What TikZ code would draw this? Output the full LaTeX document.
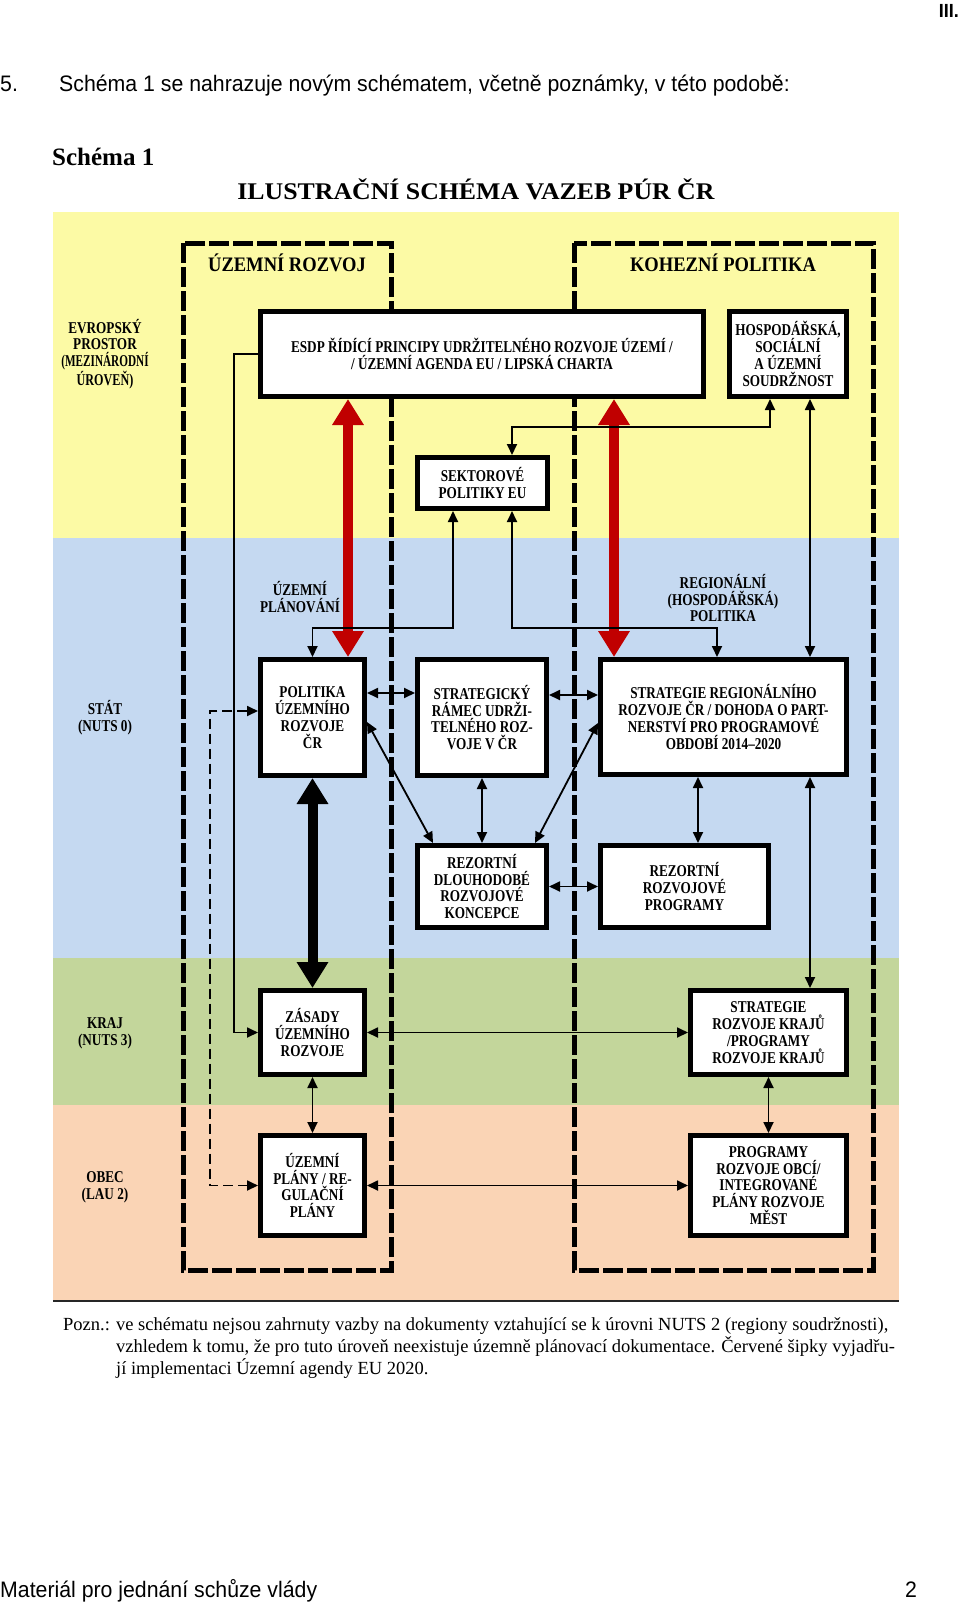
\documentclass[tikz,border=0pt]{standalone}
\usepackage{graphicx}
\usepackage{fontspec}
\setmainfont{Liberation Serif}
\newfontfamily\dia[FakeStretch=0.8]{Liberation Serif}
\newfontfamily\frfam[FakeStretch=0.9]{Liberation Serif}
\newfontfamily\ttlfont[FakeStretch=1.08]{Liberation Serif}
\newfontfamily\hdrfont[FakeStretch=0.95]{Liberation Sans}
\usetikzlibrary{arrows.meta,calc}
\definecolor{yel}{RGB}{252,250,165}
\definecolor{blu}{RGB}{197,217,241}
\definecolor{grn}{RGB}{195,214,155}
\definecolor{ora}{RGB}{250,212,181}
\definecolor{rd}{RGB}{192,0,0}
\newcommand\bxf{\dia\bfseries\fontsize{16.5}{16.8}\selectfont}
\newcommand\frf{\frfam\bfseries\fontsize{20.6}{24}\selectfont}
\tikzset{
  box/.style={draw, line width=5pt, fill=white, inner sep=0pt, align=center, font=\bxf},
  lbl/.style={align=center, font=\bxf, inner sep=0pt},
  ftitle/.style={font=\frf, inner sep=0pt},
  conn/.style={line width=1.8pt, {Triangle[length=11pt,width=10pt]}-{Triangle[length=11pt,width=10pt]}},
  conn1/.style={line width=1.8pt, -{Triangle[length=11pt,width=10pt]}},
  dconn/.style={conn, dash pattern=on 10pt off 5pt},
  big/.style={line width=10pt, {Triangle[length=26pt,width=30pt]}-{Triangle[length=26pt,width=30pt]}},
  frame/.style={line width=5pt, dash pattern=on 20pt off 4pt},
  hdr/.style={font=\hdrfont\fontsize{22.4}{26}\selectfont, inner sep=0pt, anchor=base west},
}
\begin{document}
\begin{tikzpicture}[x=1pt,y=-1pt]
\useasboundingbox (0,0) rectangle (960,1603);
\fill[white] (0,0) rectangle (960,1603);

% page texts
\node[font=\hdrfont\bfseries\fontsize{19}{22}\selectfont, inner sep=0pt, anchor=base east] (roman) at (959,18) {III.};
\node[hdr] (num) at (0,92) {5.};
\node[hdr] (intro) at (59,92) {Schéma 1 se nahrazuje novým schématem, včetně poznámky, v této podobě:};
\node[font=\bfseries\fontsize{25}{28}\selectfont, inner sep=0pt, anchor=base west] (sch) at (52,165) {Schéma 1};
\node[font=\ttlfont\bfseries\fontsize{23.9}{28}\selectfont, inner sep=0pt, anchor=base] (title) at (476,199) {ILUSTRAČNÍ SCHÉMA VAZEB PÚR ČR};

% bands
\fill[yel] (53,212) rectangle (899,538);
\fill[blu] (53,538) rectangle (899,958);
\fill[grn] (53,958) rectangle (899,1105);
\fill[ora] (53,1105) rectangle (899,1300);
\draw[line width=1.5pt, black!85] (53,1301) -- (899,1301);

% frames
\draw[frame] (183,243) rectangle (391,1270);
\draw[frame] (574,243) rectangle (873.5,1270);
\node[ftitle] (tur) at (287,263) {ÚZEMNÍ ROZVOJ};
\node[ftitle] (tkp) at (723,263) {KOHEZNÍ POLITIKA};

% level labels
\node[lbl] (lev1) at (105,354) {EVROPSKÝ\\PROSTOR\\\scalebox{0.85}[1]{(MEZINÁRODNÍ}\\\scalebox{0.92}[1]{ÚROVEŇ)}};
\node[lbl] (lev2) at (105,718) {STÁT\\(NUTS 0)};
\node[lbl] (lev3) at (105,1033) {KRAJ\\(NUTS 3)};
\node[lbl] (lev4) at (105,1187) {OBEC\\(LAU 2)};
\node[lbl] (lup) at (300,597) {ÚZEMNÍ\\PLÁNOVÁNÍ};
\node[lbl] (lrp) at (723,598) {REGIONÁLNÍ\\(HOSPODÁŘSKÁ)\\POLITIKA};

% boxes
\node[box, minimum width=443pt, minimum height=85pt] (esdp) at (482,354) {ESDP ŘÍDÍCÍ PRINCIPY UDRŽITELNÉHO ROZVOJE ÚZEMÍ /\\/ ÚZEMNÍ AGENDA EU / LIPSKÁ CHARTA};
\node[box, minimum width=117pt, minimum height=85pt] (hosp) at (788,354) {HOSPODÁŘSKÁ,\\SOCIÁLNÍ\\A ÚZEMNÍ\\SOUDRŽNOST};
\node[box, minimum width=130pt, minimum height=51pt] (sekt) at (482.5,483) {SEKTOROVÉ\\POLITIKY EU};
\node[box, minimum width=104pt, minimum height=116pt] (pur) at (312.5,717.5) {POLITIKA\\ÚZEMNÍHO\\ROZVOJE\\ČR};
\node[box, minimum width=129pt, minimum height=116pt] (srudr) at (482,717.5) {STRATEGICKÝ\\RÁMEC UDRŽI-\\TELNÉHO ROZ-\\VOJE V ČR};
\node[box, minimum width=246pt, minimum height=115pt] (srr) at (723.5,717) {STRATEGIE REGIONÁLNÍHO\\ROZVOJE ČR / DOHODA O PART-\\NERSTVÍ PRO PROGRAMOVÉ\\OBDOBÍ 2014–2020};
\node[box, minimum width=129pt, minimum height=82pt] (rdrk) at (482,886.5) {REZORTNÍ\\DLOUHODOBÉ\\ROZVOJOVÉ\\KONCEPCE};
\node[box, minimum width=168pt, minimum height=82pt] (rrp) at (684.5,886.5) {REZORTNÍ\\ROZVOJOVÉ\\PROGRAMY};
\node[box, minimum width=104pt, minimum height=84pt] (zur) at (312.5,1032.5) {ZÁSADY\\ÚZEMNÍHO\\ROZVOJE};
\node[box, minimum width=104pt, minimum height=100pt] (up) at (312.5,1185.5) {ÚZEMNÍ\\PLÁNY / RE-\\GULAČNÍ\\PLÁNY};
\node[box, minimum width=156pt, minimum height=84pt] (srk) at (768.5,1032.5) {STRATEGIE\\ROZVOJE KRAJŮ\\/PROGRAMY\\ROZVOJE KRAJŮ};
\node[box, minimum width=156pt, minimum height=100pt] (pro) at (768.5,1185.5) {PROGRAMY\\ROZVOJE OBCÍ/\\INTEGROVANÉ\\PLÁNY ROZVOJE\\MĚST};

% helper coordinates
\coordinate (xL) at (234,0);
\coordinate (xD) at (210,0);
\coordinate (xR1) at (348,0);
\coordinate (xR2) at (614,0);
\coordinate (xS1) at (453,0);
\coordinate (xS2) at (512,0);
\coordinate (xS3) at (717,0);
\coordinate (xH1) at (770,0);
\coordinate (xH2) at (810,0);
\coordinate (xl) at (698,0);
\coordinate (yS) at (0,628);
\coordinate (yH) at (0,427);
\coordinate (yg) at (0,693);
\coordinate (yh) at (0,695);

% red and thick arrows
\draw[big, rd] (esdp.south -| xR1) -- (pur.north -| xR1);
\draw[big, rd] (esdp.south -| xR2) -- (srr.north -| xR2);
\draw[big] (pur.south) -- (zur.north);

% thin connectors
\draw[conn1] (esdp.west) -- (esdp.west -| xL) |- (zur.west);
\draw[conn] (hosp.south -| xH1) -- (xH1 |- yH) -| (sekt.north -| xS2);
\draw[conn] (hosp.south -| xH2) -- (srr.north -| xH2);
\draw[conn] (sekt.south -| xS1) -- (xS1 |- yS) -| (pur.north);
\draw[conn] (sekt.south -| xS2) -- (xS2 |- yS) -| (srr.north -| xS3);
\draw[conn] (srr.south -| xH2) -- (srk.north -| xH2);
\draw[conn] (pur.east |- yg) -- (srudr.west |- yg);
\draw[conn] (srudr.east |- yh) -- (srr.west |- yh);
\draw[conn] ([yshift=-4.5pt]pur.east) -- ([xshift=18pt]rdrk.north west);
\draw[conn] (srudr.south) -- (rdrk.north);
\draw[conn] ([yshift=-6pt]srr.west) -- ([xshift=-14pt]rdrk.north east);
\draw[conn] (srr.south -| xl) -- (rrp.north -| xl);
\draw[conn] (rdrk.east) -- (rrp.west);
\draw[conn] (zur.south) -- (up.north);
\draw[conn] (srk.south) -- (pro.north);
\draw[conn] (zur.east) -- (zur.east -| srk.west);
\draw[conn] (up.east) -- (up.east -| pro.west);
\coordinate (dA) at ([yshift=6.5pt]pur.west);
\draw[dconn] (dA) -- (dA -| xD) -- (xD |- up.west) -- (up.west);

% note
\node[anchor=base west, inner sep=0pt, font=\fontsize{18.5}{21}\selectfont] (note) at (63,1330) {\begin{tabular}[t]{@{}l@{ }l@{}}Pozn.: & ve schématu nejsou zahrnuty vazby na dokumenty vztahující se k úrovni NUTS 2 (regiony soudržnosti),\\ & vzhledem k tomu, že pro tuto úroveň neexistuje územně plánovací dokumentace. Červené šipky vyjadřu-\\ & jí implementaci Územní agendy EU 2020.\end{tabular}};

% footer
\node[hdr] (foot) at (0,1597) {Materiál pro jednání schůze vlády};
\node[hdr, anchor=base] (page) at (911,1597) {2};
\end{tikzpicture}
\end{document}
